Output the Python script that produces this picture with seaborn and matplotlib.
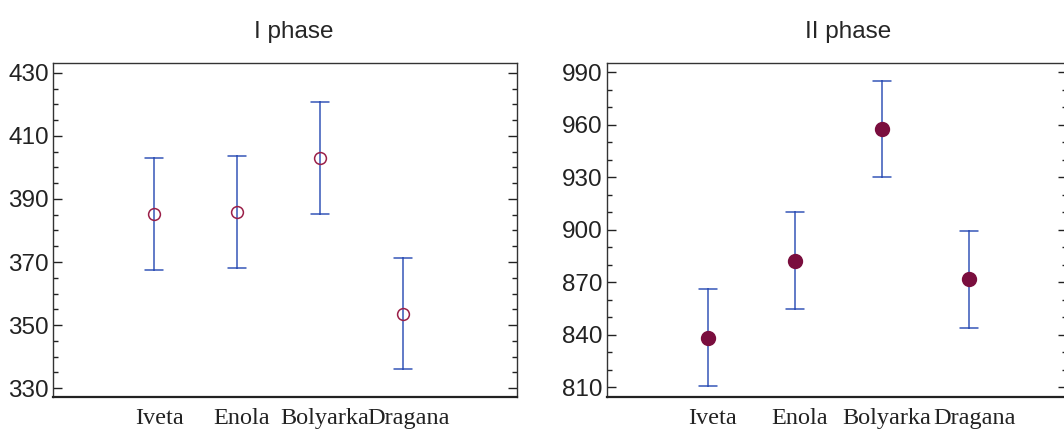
import numpy as np
import pandas as pd
import matplotlib
matplotlib.use("Agg")
import matplotlib.pyplot as plt
import matplotlib.transforms as mtransforms
from matplotlib.ticker import MultipleLocator, FixedLocator
import seaborn as sns

varieties = ['Iveta', 'Enola', 'Bolyarka', 'Dragana']

# phase I: means and half-width of the interval
phase1_mean = [385.2, 385.8, 402.9, 353.6]
phase1_err = [17.7, 17.7, 17.7, 17.6]
phase1_ticks = [330, 350, 370, 390, 410, 430]

# phase II
phase2_mean = [838.5, 882.5, 957.6, 871.8]
phase2_err = [27.7, 27.6, 27.6, 27.6]
phase2_ticks = [810, 840, 870, 900, 930, 960, 990]

blue = '#3656b8'
maroon = '#7a0e3e'

sns.set_style('white')
plt.rcParams['font.family'] = ['Liberation Sans', 'DejaVu Sans']


def long_form(mean, err):
    # two rows per variety (low and high end), so the mean is the midpoint
    # and the 100% interval spans the error bar
    lo = np.array(mean) - np.array(err)
    hi = np.array(mean) + np.array(err)
    return pd.DataFrame({'variety': varieties * 2,
                         'value': np.concatenate([lo, hi])})


fig = plt.figure(figsize=(10.64, 4.29), dpi=100)
ax1 = fig.add_axes([0.0498, 0.0746, 0.436, 0.7786])
ax2 = fig.add_axes([0.5702, 0.0746, 0.4326, 0.7786])

sns.pointplot(data=long_form(phase1_mean, phase1_err), x='variety', y='value',
              order=varieties, errorbar=('pi', 100), capsize=0.21,
              linestyle='none', marker='o', markersize=8.5,
              markerfacecolor='none', markeredgecolor='#9a1f48',
              markeredgewidth=1.1, color=maroon,
              err_kws={'color': blue, 'linewidth': 1.1, 'zorder': 1},
              zorder=3, ax=ax1)

sns.pointplot(data=long_form(phase2_mean, phase2_err), x='variety', y='value',
              order=varieties, errorbar=('pi', 100), capsize=0.21,
              linestyle='none', marker='o', markersize=9,
              markerfacecolor=maroon, markeredgecolor=maroon, color=maroon,
              err_kws={'color': blue, 'linewidth': 1.1, 'zorder': 1},
              zorder=3, ax=ax2)

ax1.set_xlim(-1.217, 4.37)
ax1.set_ylim(327.2, 433.1)
ax1.yaxis.set_major_locator(FixedLocator(phase1_ticks))
ax1.yaxis.set_minor_locator(MultipleLocator(5))
ax1.set_title('I phase', fontsize=17.5, pad=18, x=0.52)

ax2.set_xlim(-1.158, 4.12)
ax2.set_ylim(804.5, 995.4)
ax2.yaxis.set_major_locator(FixedLocator(phase2_ticks))
ax2.yaxis.set_minor_locator(MultipleLocator(10))
ax2.set_title('II phase', fontsize=17.5, pad=18, x=0.525)

shift = mtransforms.ScaledTranslation(5 / 100, 0, fig.dpi_scale_trans)
for ax in (ax1, ax2):
    ax.set_xlabel('')
    ax.set_ylabel('')
    ax.tick_params(axis='y', which='major', direction='in', length=6.5,
                   width=1, left=True, right=True, labelsize=17.5, pad=3,
                   colors='#222222')
    ax.tick_params(axis='y', which='minor', direction='in', length=3.6,
                   width=1, left=True, right=True, colors='#222222')
    ax.tick_params(axis='x', length=0, pad=8)
    for lab in ax.get_xticklabels():
        lab.set_fontfamily('Liberation Serif')
        lab.set_fontsize(17.5)
        lab.set_color('#222222')
        lab.set_transform(lab.get_transform() + shift)
    for side in ['top', 'left', 'right']:
        ax.spines[side].set_visible(True)
        ax.spines[side].set_color('#333333')
        ax.spines[side].set_linewidth(1)
    ax.spines['bottom'].set_color('#222222')
    ax.spines['bottom'].set_linewidth(1.6)

fig.savefig('out.png', dpi=100)
